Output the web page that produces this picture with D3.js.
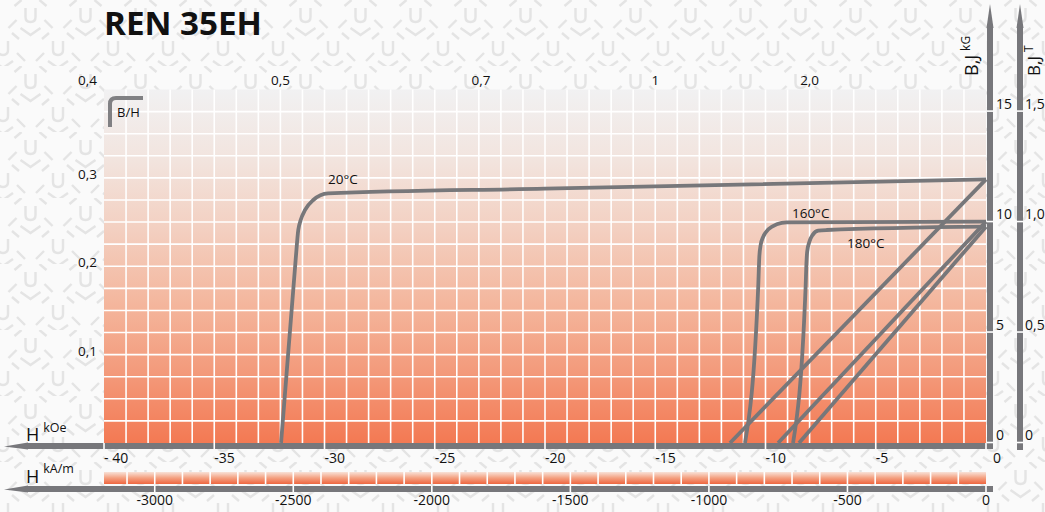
<!DOCTYPE html>
<html><head><meta charset="utf-8">
<script src="https://cdn.jsdelivr.net/npm/d3@7"></script>
<style>html,body{margin:0;padding:0;background:#f7f7f7;}svg{display:block;font-family:"Open Sans","Noto Sans",sans-serif;}</style>
</head><body>
<script>
// ---- data ----
const title = "REN 35EH";
const hTicks = [-40, -35, -30, -25, -20, -15, -10, -5, 0];
const hTickLabels = ["- 40", "-35", "-30", "-25", "-20", "-15", "-10", "-5", "0"];
const kamTicks = [-3000, -2500, -2000, -1500, -1000, -500, 0];
const kamTickLabels = ["-3000", "-2500", "-2000", "-1500", "-1000", "-500", "0"];
const bTicks = [0, 5, 10, 15];
const bTickLabels = ["0", "5", "10", "15"];
const teslaTickLabels = ["0", "0,5", "1,0", "1,5"];
const permLeft = [0.4, 0.3, 0.2, 0.1];
const permLeftLabels = ["0,4", "0,3", "0,2", "0,1"];
const permTopLabels = ["0,5", "0,7", "1", "2,0"];
const permTopH = [-32, -22.9, -15, -8];
// demagnetisation curves [H kOe, B kG]
const j20 = [[-31.97,0],[-31.31,8.28],[-31.19,9.64],[-31.08,10.09],[-30.88,10.55],[-30.51,11.0],[-29.84,11.30],[-20,11.51],[0,11.93]];
const b20 = [[-11.61,0],[0,11.93]];
const j160 = [[-10.93,0],[-10.33,7.08],[-10.28,8.43],[-10.22,8.96],[-10.10,9.34],[-9.87,9.67],[-9.49,9.90],[-9.04,9.99],[0,10.02]];
const b160 = [[-9.43,0],[0,10.02]];
const j180 = [[-8.75,0],[-8.18,7.08],[-8.15,7.98],[-8.11,8.66],[-8.01,9.11],[-7.86,9.42],[-7.61,9.61],[-7.23,9.64],[0,9.79]];
const b180 = [[-8.48,0],[0,9.79]];
const curves = [j20, b20, j160, b160, j180, b180];
const tempLabels = ["20°C", "160°C", "180°C"];
const tempLabelAt = [[-29.84, 11.72], [-8.8, 10.19], [-6.3, 8.83]];

// ---- drawing ----
const W = 1045, H = 512;
const svg = d3.select("body").append("svg").attr("width", W).attr("height", H);
const defs = svg.append("defs");

// background pattern
const pat = defs.append("pattern").attr("id","bg").attr("patternUnits","userSpaceOnUse")
  .attr("width",55).attr("height",66).attr("x",3).attr("y",0);
pat.append("rect").attr("width",55).attr("height",66).attr("fill","#fafafa");
const ps = "#e4e4e4";
[[27.5,8],[0,41],[55,41]].forEach(([cx,cy])=>{
  pat.append("path").attr("d",`M${cx-5},${cy} V${cy+9} Q${cx-5},${cy+14} ${cx},${cy+14} Q${cx+5},${cy+14} ${cx+5},${cy+9} V${cy}`)
    .attr("fill","none").attr("stroke",ps).attr("stroke-width",2.4);
  pat.append("path").attr("d",`M${cx-16},${cy-2} L${cx-9},${cy-8} M${cx+16},${cy-2} L${cx+9},${cy-8} M${cx-14},${cy+12} L${cx-22},${cy+20} M${cx+14},${cy+12} L${cx+22},${cy+20} M${cx-10},${cy+20} L${cx},${cy+27} L${cx+10},${cy+20}`)
    .attr("fill","none").attr("stroke",ps).attr("stroke-width",2.4);
});
svg.append("rect").attr("width",W).attr("height",H).attr("fill","url(#bg)");

const x = d3.scaleLinear().domain([-40, 0]).range([104, 986]);
const y = d3.scaleLinear().domain([0, 16]).range([443, 89.5]);
const KAM = 79.5775;
const xk = d3.scaleLinear().domain([-40 * KAM, 0]).range([104, 986]);

// plot gradient
const g1 = defs.append("linearGradient").attr("id","plotGrad").attr("gradientUnits","userSpaceOnUse")
  .attr("x1",0).attr("x2",0).attr("y1",y(16)).attr("y2",y(0));
[[0,"#f1f1f2"],[0.2,"#f2e4de"],[0.4,"#f3cfc0"],[0.6,"#f4b79e"],[0.8,"#f39a7b"],[1,"#f37953"]]
  .forEach(([o,c])=>g1.append("stop").attr("offset",o).attr("stop-color",c));
const g2 = defs.append("linearGradient").attr("id","stripGrad").attr("x1",0).attr("x2",0).attr("y1",0).attr("y2",1);
[[0,"#f8e2d8"],[0.5,"#f4a080"],[1,"#ee6640"]].forEach(([o,c])=>g2.append("stop").attr("offset",o).attr("stop-color",c));

svg.append("rect").attr("x",x(-40)).attr("y",y(16)).attr("width",x(0)-x(-40)).attr("height",y(0)-y(16)).attr("fill","url(#plotGrad)");

// grid
const grid = svg.append("g").attr("stroke","#ffffff").attr("stroke-width",1.6);
grid.selectAll("line.v").data(d3.range(-39, 0)).enter().append("line")
  .attr("x1",d=>x(d)).attr("x2",d=>x(d)).attr("y1",y(16)).attr("y2",y(0));
grid.selectAll("line.h").data(d3.range(1, 16)).enter().append("line")
  .attr("x1",x(-40)).attr("x2",x(0)).attr("y1",d=>y(d)).attr("y2",d=>y(d));

// kA/m strip
svg.append("rect").attr("x",x(-40)).attr("y",472).attr("width",x(0)-x(-40)).attr("height",12).attr("fill","url(#stripGrad)");
svg.append("g").attr("stroke","#fff").attr("stroke-width",1.6).selectAll("line")
  .data(d3.range(-3100, 0, 100)).enter().append("line")
  .attr("x1",d=>xk(d)).attr("x2",d=>xk(d)).attr("y1",472).attr("y2",484);

const barCol = "#77777b";
// horizontal axis bars with arrows
function hBar(yTop, ticks, scale){
  svg.append("rect").attr("x",26).attr("y",yTop).attr("width",993-26).attr("height",6).attr("fill",barCol);
  svg.append("path").attr("d",`M4,${yTop+3.5} L28,${yTop-0.5} L28,${yTop+6.5} Z`).attr("fill",barCol);
  svg.append("g").selectAll("line").data(ticks).enter().append("line")
    .attr("x1",d=>scale(d)).attr("x2",d=>scale(d)).attr("y1",yTop).attr("y2",yTop+6)
    .attr("stroke","#fff").attr("stroke-width",1.6);
}
hBar(443, hTicks, x);
hBar(486, kamTicks, xk);

// vertical axis bars with arrows
function vBar(xLeft, yBottom){
  svg.append("rect").attr("x",xLeft).attr("y",26).attr("width",6).attr("height",yBottom-26).attr("fill",barCol);
  svg.append("path").attr("d",`M${xLeft+3},4 L${xLeft-0.5},28 L${xLeft+6.5},28 Z`).attr("fill",barCol);
  svg.append("g").selectAll("line").data(bTicks).enter().append("line")
    .attr("x1",xLeft).attr("x2",xLeft+6).attr("y1",d=>y(d)-0.5).attr("y2",d=>y(d)-0.5)
    .attr("stroke","#fff").attr("stroke-width",1.6);
}
vBar(987, 443);
vBar(1017, 450);

// curves
const line = d3.line().x(d=>x(d[0])).y(d=>y(d[1])).curve(d3.curveMonotoneX);
svg.append("g").selectAll("path").data(curves).enter().append("path")
  .attr("d",line).attr("fill","none").attr("stroke","#77777a").attr("stroke-width",3.8).attr("stroke-linecap","butt");

// temperature labels
svg.append("g").selectAll("text").data(tempLabels).enter().append("text")
  .attr("x",(d,i)=>x(tempLabelAt[i][0])).attr("y",(d,i)=>y(tempLabelAt[i][1]))
  .attr("font-size",13.5).attr("fill","#111").text(d=>d);

// tick labels
svg.append("g").selectAll("text").data(hTicks).enter().append("text")
  .attr("x",d=>x(d)+(d===0?7:0)).attr("y",463).attr("font-size",14).attr("fill","#111")
  .text((d,i)=>hTickLabels[i]);
svg.append("g").selectAll("text").data(kamTicks).enter().append("text")
  .attr("x",d=>xk(d)).attr("y",505).attr("text-anchor","middle").attr("font-size",14).attr("fill","#111")
  .text((d,i)=>kamTickLabels[i]);
svg.append("g").selectAll("text").data(bTicks).enter().append("text")
  .attr("x",996).attr("y",d=>y(d)-3).attr("font-size",14).attr("fill","#111")
  .text((d,i)=>bTickLabels[i]);
svg.append("g").selectAll("text").data(bTicks).enter().append("text")
  .attr("x",1025).attr("y",d=>y(d)-3).attr("font-size",14).attr("fill","#111")
  .text((d,i)=>teslaTickLabels[i]);
svg.append("g").selectAll("text").data(permLeft).enter().append("text")
  .attr("x",97).attr("y",d=>y(d*40) + (d*40 >= 16 ? -5 : 1)).attr("text-anchor","end").attr("font-size",13.5).attr("fill","#111")
  .text((d,i)=>permLeftLabels[i]);
svg.append("g").selectAll("text").data(permTopH).enter().append("text")
  .attr("x",d=>x(d)).attr("y",85).attr("text-anchor","middle").attr("font-size",13.5).attr("fill","#111")
  .text((d,i)=>permTopLabels[i]);

// B/H marker
svg.append("path").attr("d","M110,127 V104 Q110,98 116,98 H143").attr("fill","none").attr("stroke","#808083").attr("stroke-width",4);
svg.append("text").attr("x",117).attr("y",117).attr("font-size",13).attr("fill","#111").text("B/H");

// title
svg.append("text").attr("x",104).attr("y",35).attr("font-size",33).attr("font-weight","bold").attr("fill","#111")
  .attr("textLength",158).attr("lengthAdjust","spacingAndGlyphs").text(title);

// axis names
const hl1 = svg.append("text").attr("x",26).attr("y",441).attr("fill","#111");
hl1.append("tspan").attr("font-size",18).text("H");
hl1.append("tspan").attr("font-size",12.5).attr("dx",4).attr("dy",-9).text("kOe");
const hl2 = svg.append("text").attr("x",26).attr("y",483).attr("fill","#111");
hl2.append("tspan").attr("font-size",18).text("H");
hl2.append("tspan").attr("font-size",12.5).attr("dx",4).attr("dy",-10).text("kA/m");

const r1 = svg.append("text").attr("transform","translate(978,76) rotate(-90)").attr("fill","#111");
r1.append("tspan").attr("font-size",18).text("B,J");
r1.append("tspan").attr("font-size",12).attr("dx",4).attr("dy",-8).text("kG");
const r2 = svg.append("text").attr("transform","translate(1040,76) rotate(-90)").attr("fill","#111");
r2.append("tspan").attr("font-size",17).text("B,J");
r2.append("tspan").attr("font-size",12).attr("dx",4).attr("dy",-7).text("T");
</script>
</body></html>
